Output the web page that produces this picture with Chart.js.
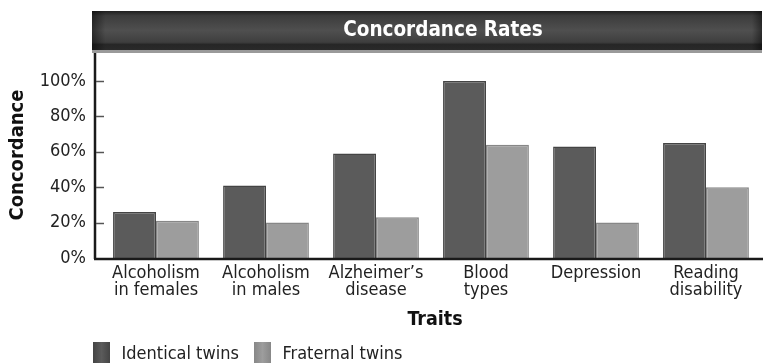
<!DOCTYPE html>
<html>
<head>
<meta charset="utf-8">
<script src="https://cdn.jsdelivr.net/npm/chart.js@4.4.1/dist/chart.umd.min.js"></script>
<style>
  html, body { margin: 0; padding: 0; background: #fff; }
  #chartBar { display: block; }
</style>
</head>
<body>
<canvas id="chartBar" width="763" height="363"></canvas>
<script>
const FONT = "'DejaVu Sans Condensed', 'DejaVu Sans', sans-serif";

const categories = [
  ['Alcoholism', 'in females'],
  ['Alcoholism', 'in males'],
  ['Alzheimer\u2019s', 'disease'],
  ['Blood', 'types'],
  ['Depression'],
  ['Reading', 'disability']
];
const identicalTwins = [26, 41, 59, 100, 63, 65];
const fraternalTwins = [21, 20, 23, 64, 20, 40];
const yTicks = [0, 20, 40, 60, 80, 100];

const seriesNames = ['Identical twins', 'Fraternal twins'];
const seriesColors = ['#5b5b5b', '#9d9d9d'];
const seriesEdges = ['#444444', '#878787'];

// title bar, axis lines, axis titles and legend
const decor = {
  id: 'decor',
  afterDraw(chart) {
    const ctx = chart.ctx;
    const y = chart.scales.y;
    const area = chart.chartArea;
    ctx.save();

    // dark header bar
    const g = ctx.createLinearGradient(0, 11, 0, 50);
    g.addColorStop(0, '#1f1f1f');
    g.addColorStop(0.12, '#3c3c3c');
    g.addColorStop(0.5, '#4f4f4f');
    g.addColorStop(0.8, '#3e3e3e');
    g.addColorStop(0.86, '#262626');
    g.addColorStop(1, '#2a2a2a');
    ctx.fillStyle = g;
    ctx.fillRect(92, 11, 670, 39);
    const side = ctx.createLinearGradient(92, 0, 762, 0);
    side.addColorStop(0, 'rgba(0,0,0,0.45)');
    side.addColorStop(0.02, 'rgba(0,0,0,0)');
    side.addColorStop(0.985, 'rgba(0,0,0,0)');
    side.addColorStop(1, 'rgba(0,0,0,0.45)');
    ctx.fillStyle = side;
    ctx.fillRect(92, 11, 670, 39);
    ctx.fillStyle = '#9a9a9a';
    ctx.fillRect(92, 50, 670, 3);

    ctx.fillStyle = '#ffffff';
    ctx.font = 'bold 20.5px ' + FONT;
    ctx.textAlign = 'center';
    ctx.textBaseline = 'middle';
    ctx.fillText('Concordance Rates', 443, 31);

    // axes
    ctx.strokeStyle = '#1a1a1a';
    ctx.lineWidth = 2.5;
    ctx.beginPath();
    ctx.moveTo(95, 53);
    ctx.lineTo(95, area.bottom + 1);
    ctx.moveTo(94, area.bottom + 1);
    ctx.lineTo(763, area.bottom + 1);
    ctx.stroke();

    // tick marks sit inside the plot
    ctx.strokeStyle = '#555';
    ctx.lineWidth = 1.5;
    yTicks.slice(1).forEach(v => {
      const py = Math.round(y.getPixelForValue(v)) + 0.5;
      ctx.beginPath();
      ctx.moveTo(96, py);
      ctx.lineTo(104, py);
      ctx.stroke();
    });

    // axis titles
    ctx.fillStyle = '#111';
    ctx.font = 'bold 20px ' + FONT;
    ctx.save();
    ctx.translate(18, 155);
    ctx.rotate(-Math.PI / 2);
    ctx.fillText('Concordance', 0, 0);
    ctx.restore();
    ctx.font = 'bold 19.5px ' + FONT;
    ctx.fillText('Traits', 435, 320);

    // legend
    const legendX = [93, 254];
    ctx.font = '18px ' + FONT;
    ctx.textAlign = 'left';
    ctx.textBaseline = 'alphabetic';
    seriesNames.forEach((name, i) => {
      const sx = legendX[i];
      const sg = ctx.createLinearGradient(sx, 0, sx + 17, 0);
      sg.addColorStop(0, seriesEdges[i]);
      sg.addColorStop(0.5, seriesColors[i]);
      sg.addColorStop(1, seriesEdges[i]);
      ctx.fillStyle = sg;
      ctx.fillRect(sx, 342, 17, 21);
      ctx.fillStyle = '#222';
      ctx.fillText(name, sx + 28.5, 359);
    });

    ctx.restore();
  }
};

const dataBarChart = {
  labels: categories,
  datasets: [
    {
      label: seriesNames[0],
      data: identicalTwins,
      backgroundColor: seriesColors[0],
      borderColor: seriesEdges[0],
      borderWidth: 1.5,
      borderSkipped: 'bottom'
    },
    {
      label: seriesNames[1],
      data: fraternalTwins,
      backgroundColor: seriesColors[1],
      borderColor: seriesEdges[1],
      borderWidth: 1.5,
      borderSkipped: 'bottom'
    }
  ]
};

const configBarChart = {
  type: 'bar',
  data: dataBarChart,
  options: {
    responsive: false,
    animation: false,
    devicePixelRatio: 1,
    categoryPercentage: 0.78,
    barPercentage: 1.0,
    layout: { padding: { left: 0, right: 2, top: 81, bottom: 0 } },
    plugins: {
      legend: { display: false },
      tooltip: { enabled: false }
    },
    scales: {
      x: {
        grid: { display: false },
        border: { display: false },
        ticks: {
          color: '#222',
          font: { family: FONT, size: 18, lineHeight: 0.95 },
          padding: -1,
          maxRotation: 0,
          autoSkip: false
        },
        afterFit: s => { s.height = 105; }
      },
      y: {
        min: 0,
        max: 100,
        grid: { display: false, drawTicks: false },
        border: { display: false },
        afterBuildTicks: s => { s.ticks = yTicks.map(v => ({ value: v })); },
        ticks: {
          color: '#222',
          font: { family: FONT, size: 18 },
          padding: 15,
          callback: v => v + '%'
        },
        afterFit: s => { s.width = 101; }
      }
    }
  },
  plugins: [decor]
};

const chartBar = new Chart(document.getElementById('chartBar'), configBarChart);
</script>
</body>
</html>
